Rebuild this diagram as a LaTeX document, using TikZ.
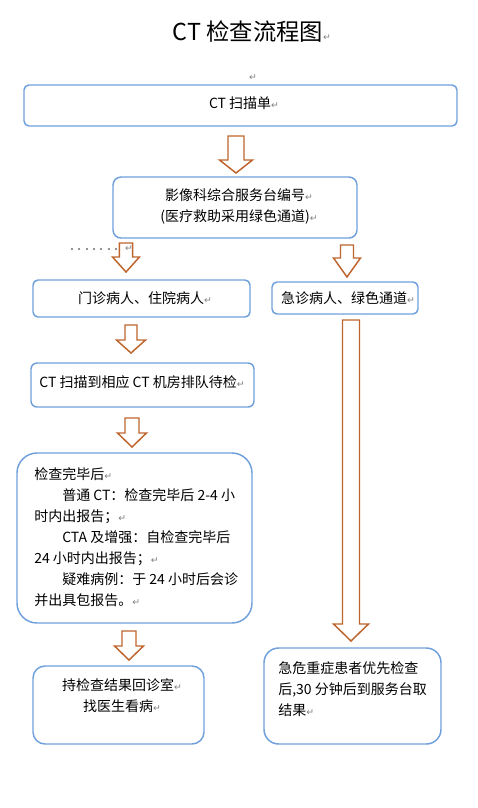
\documentclass[tikz,border=0pt]{standalone}
\usepackage{fontspec}
\setmainfont{Noto Sans CJK SC}
\newfontfamily\symfont{DejaVu Sans}
\usetikzlibrary{fit}
\definecolor{boxblue}{RGB}{112,160,220}
\definecolor{arrbrown}{RGB}{190,100,45}
\newcommand{\pmark}{{\symfont\color{gray}\fontsize{7pt}{7pt}\selectfont ↵}}
\newcommand{\blockarr}[7]{%
  \coordinate (#1-top) at (#2,#3);
  \coordinate (#1-tip) at (#2,#5);
  \draw[barrow] ({#2-#6},#3) -- ({#2+#6},#3) -- ({#2+#6},#4) -- ({#2+#7},#4)
    -- (#1-tip) -- ({#2-#7},#4) -- ({#2-#6},#4) -- cycle;}
\tikzset{
  box/.style={draw=boxblue, line width=1.1pt, fill=white, inner sep=0pt},
  txt/.style={inner sep=0pt, font=\fontsize{10.5pt}{15.75pt}\selectfont},
  barrow/.style={draw=arrbrown, line width=1.1pt, fill=white, line join=miter},
}
\begin{document}
\begin{tikzpicture}[x=0.75pt,y=-0.75pt]
\useasboundingbox (0,0) rectangle (478,808);

% title
\node[inner sep=0pt, font=\fontsize{17.5pt}{20pt}\selectfont] (title) at (252,32) {CT 检查流程图\pmark};
\node[inner sep=0pt] (pm0) at (253,78) {\pmark};

% boxes
\node[box, rounded corners=3.75pt, fit={(24,85) (457,126)}] (b1) {};
\node[box, rounded corners=6pt, fit={(113,177) (357,238)}] (b2) {};
\node[box, rounded corners=3.75pt, fit={(33,280) (250,317)}] (b3) {};
\node[box, rounded corners=3.75pt, fit={(272,282) (418,314)}] (b4) {};
\node[box, rounded corners=4.5pt, fit={(31,363) (254,407)}] (b5) {};
\node[box, rounded corners=15pt, fit={(17,453) (252,623)}] (b6) {};
\node[box, rounded corners=9pt, fit={(33,666) (204,744)}] (b7) {};
\node[box, rounded corners=11pt, fit={(264,648) (441,744)}] (b8) {};

% texts
\node[txt] (t1) at (244,103) {CT 扫描单\pmark};
\node[txt, align=center] (t2) at (239,206.5) {影像科综合服务台编号\pmark\\(医疗救助采用绿色通道)\pmark};
\node[txt] (t3) at (145,298) {门诊病人、住院病人\pmark};
\node[txt] (t4) at (348,298) {急诊病人、绿色通道\pmark};
\node[txt] (t5) at (142,382) {CT 扫描到相应 CT 机房排队待检\pmark};
\node[txt, align=left, anchor=west] (t6) at (34,537) {检查完毕后\pmark\\
\hspace*{2em}普通 CT：检查完毕后 2-4 小\\
时内出报告；\pmark\\
\hspace*{2em}CTA 及增强：自检查完毕后\\
24 小时内出报告；\pmark\\
\hspace*{2em}疑难病例：于 24 小时后会诊\\
并出具包报告。\pmark};
\node[txt, align=center] (t7) at (122,695.5) {持检查结果回诊室\pmark\\找医生看病\pmark};
\node[txt, align=left, anchor=west] (t8) at (278,689) {急危重症患者优先检查\\后,30 分钟后到服务台取\\结果\pmark};

% dotted leader
\coordinate (dl1) at (71,249);
\coordinate (dl2) at (118,249);
\draw[gray!85, line width=1.7pt, dash pattern=on 1.5pt off 4pt] (dl1) -- (dl2);

% block arrows
\blockarr{a1}{236}{136}{160}{173}{8}{16.5}
\blockarr{a2}{126}{243}{257}{272}{6.7}{13.5}
\blockarr{a3}{347}{245}{258}{277}{6.5}{13.5}
\blockarr{a4}{131}{325}{340}{353}{6}{14.5}
\blockarr{a5}{132}{418}{433}{447}{7}{14.5}
\blockarr{a6}{129}{631}{646}{660}{7}{14.5}
\blockarr{a7}{351}{320}{624}{641}{8.5}{17.5}
\node[inner sep=0pt] (pm1) at (129,249) {\pmark};
\end{tikzpicture}
\end{document}
